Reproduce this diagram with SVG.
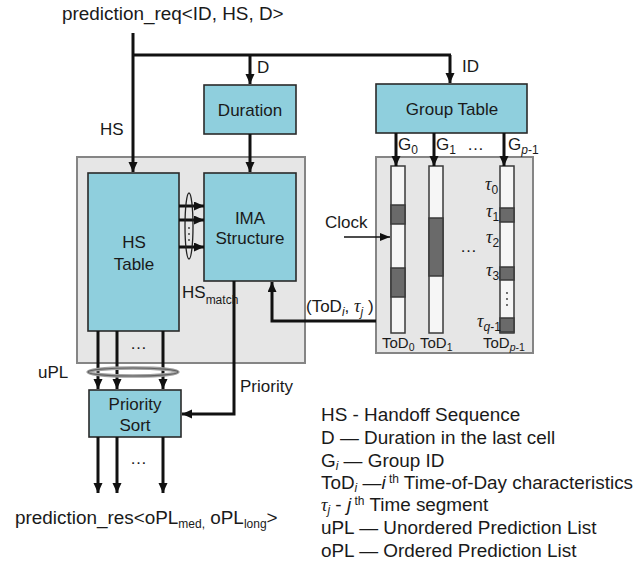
<svg xmlns="http://www.w3.org/2000/svg" width="644" height="564" viewBox="0 0 644 564">
<defs>
<marker id="ah" markerUnits="userSpaceOnUse" markerWidth="11" markerHeight="10" refX="10" refY="4.5" orient="auto">
<path d="M0,0 L10,4.5 L0,9 z" fill="#111"/>
</marker>
<marker id="ahs" markerUnits="userSpaceOnUse" markerWidth="11" markerHeight="10" refX="10" refY="4" orient="auto">
<path d="M0,0 L10,4 L0,8 z" fill="#111"/>
</marker>
</defs>
<style>
text{font-family:"Liberation Sans",Arial,sans-serif;fill:#1a1a1a;font-size:17px}
.big{font-size:18.9px}
.sub{font-size:12px}
.tod{font-size:15px}
.tsub{font-size:10.5px}
.tau{font-family:"Liberation Serif","Times New Roman",serif;font-style:italic;font-size:18px}
.it{font-style:italic}
.panel{fill:#e6e6e6;stroke:#858585;stroke-width:2}
.box{fill:#8fcfdd;stroke:#2a2a2a;stroke-width:1.6}
.bar{fill:#f6f6f6;stroke:#3a3a3a;stroke-width:1.5}
.seg{fill:#6a6a6a;stroke:#3a3a3a;stroke-width:1.5}
.c{fill:none;stroke:#111;stroke-width:3}
.ca{fill:none;stroke:#111;stroke-width:3;marker-end:url(#ah)}
.thin{fill:none;stroke:#111;stroke-width:1.6;marker-end:url(#ahs)}
</style>
<rect width="644" height="564" fill="#ffffff"/>

<g id="panel-left"><rect class="panel" x="77" y="157" width="228" height="206"/></g>
<g id="panel-right"><rect class="panel" x="376" y="157" width="157" height="196"/></g>

<g id="duration"><rect class="box" x="204" y="85" width="92" height="49"/><text x="250" y="116" text-anchor="middle">Duration</text></g>
<g id="group-table"><rect class="box" x="376" y="84" width="151" height="49"/><text x="452" y="115" text-anchor="middle">Group Table</text></g>
<g id="hs-table"><rect class="box" x="88" y="173" width="91" height="158"/><text x="134" y="248" text-anchor="middle">HS</text><text x="134" y="270" text-anchor="middle">Table</text></g>
<g id="ima"><rect class="box" x="204" y="173" width="92" height="108"/><text x="250" y="224" text-anchor="middle">IMA</text><text x="250" y="244" text-anchor="middle">Structure</text></g>
<g id="priority-sort"><rect class="box" x="89" y="390" width="92" height="47"/><text x="135" y="410" text-anchor="middle">Priority</text><text x="135" y="431" text-anchor="middle">Sort</text></g>

<g id="tod0">
<rect class="bar" x="391" y="166" width="14" height="167"/>
<rect class="seg" x="391" y="205" width="14" height="19"/>
<rect class="seg" x="391" y="268" width="14" height="29"/>
<text class="tod" x="382" y="348">ToD<tspan class="tsub" dy="3">0</tspan></text>
</g>
<g id="tod1">
<rect class="bar" x="429" y="166" width="14" height="167"/>
<rect class="seg" x="429" y="218" width="14" height="58"/>
<text class="tod" x="420" y="348">ToD<tspan class="tsub" dy="3">1</tspan></text>
</g>
<g id="todp">
<rect class="bar" x="500" y="166" width="14" height="167"/>
<rect class="seg" x="500" y="208" width="14" height="14"/>
<rect class="seg" x="500" y="267" width="14" height="13"/>
<rect class="seg" x="500" y="318" width="14" height="14"/>
<text class="tod" x="483" y="348">ToD<tspan class="tsub" dy="3" font-style="italic">p</tspan><tspan class="tsub">-1</tspan></text>
<text class="tau" x="485" y="190">τ<tspan class="sub" font-style="normal" font-family="Liberation Sans" dy="4">0</tspan></text>
<text class="tau" x="486" y="217">τ<tspan class="sub" font-style="normal" font-family="Liberation Sans" dy="4">1</tspan></text>
<text class="tau" x="486" y="243">τ<tspan class="sub" font-style="normal" font-family="Liberation Sans" dy="4">2</tspan></text>
<text class="tau" x="486" y="276">τ<tspan class="sub" font-style="normal" font-family="Liberation Sans" dy="4">3</tspan></text>
<text class="tau" x="477" y="327">τ<tspan class="sub" font-family="Liberation Sans" dy="4">q</tspan><tspan class="sub" font-style="normal" font-family="Liberation Sans">-1</tspan></text>
<g fill="#333"><circle cx="507" cy="293" r="0.9"/><circle cx="507" cy="299" r="0.9"/><circle cx="507" cy="305" r="0.9"/></g>
</g>

<g id="connectors">
<line class="ca" x1="133" y1="33" x2="133" y2="172"/>
<line class="c" x1="133" y1="55" x2="451" y2="55"/>
<line class="ca" x1="250" y1="55" x2="250" y2="84"/>
<line class="ca" x1="450" y1="55" x2="450" y2="83"/>
<line class="ca" x1="250" y1="134" x2="250" y2="172"/>
<line class="ca" x1="396" y1="133" x2="396" y2="166"/>
<line class="ca" x1="434" y1="133" x2="434" y2="166"/>
<line class="ca" x1="504" y1="133" x2="504" y2="166"/>
<line class="ca" x1="179" y1="206" x2="204" y2="206"/>
<line class="ca" x1="179" y1="220" x2="204" y2="220"/>
<line class="ca" x1="179" y1="247" x2="204" y2="247"/>
<ellipse cx="189" cy="226" rx="4" ry="33" fill="none" stroke="#222" stroke-width="1.3"/>
<g fill="#333"><circle cx="189" cy="228" r="0.9"/><circle cx="189" cy="234" r="0.9"/><circle cx="189" cy="240" r="0.9"/></g>
<polyline class="ca" points="234,281 234,414 182,414"/>
<polyline class="ca" points="376,321 272,321 272,282"/>
<line class="thin" x1="344" y1="237" x2="390" y2="237"/>
<line class="ca" x1="98" y1="331" x2="98" y2="389"/>
<line class="ca" x1="117" y1="331" x2="117" y2="389"/>
<line class="ca" x1="163" y1="331" x2="163" y2="389"/>
<ellipse cx="133" cy="372" rx="45" ry="4" fill="none" stroke="#a0a0a0" stroke-width="3.5"/>
<ellipse cx="133" cy="372" rx="45" ry="4" fill="none" stroke="#606060" stroke-width="1.1"/>
<line class="ca" x1="98" y1="437" x2="98" y2="493"/>
<line class="ca" x1="117" y1="437" x2="117" y2="493"/>
<line class="ca" x1="163" y1="437" x2="163" y2="493"/>
</g>

<g id="labels">
<text class="big" x="62" y="20">prediction_req&lt;ID, HS, D&gt;</text>
<text x="257" y="73">D</text>
<text x="462" y="72">ID</text>
<text x="100" y="135">HS</text>
<text x="398" y="150">G<tspan class="sub" dy="4">0</tspan></text>
<text x="436" y="150">G<tspan class="sub" dy="4">1</tspan></text>
<text x="467" y="150">…</text>
<text x="508" y="150">G<tspan class="sub" dy="4" font-style="italic">p</tspan><tspan class="sub">-1</tspan></text>
<text x="325" y="228">Clock</text>
<text x="460" y="252">…</text>
<text x="182" y="298">HS<tspan class="sub" dy="6">match</tspan></text>
<text x="306" y="312">(ToD<tspan class="sub" dy="4" font-style="italic">i</tspan><tspan dy="-4">, </tspan><tspan class="tau">τ</tspan><tspan class="sub" dy="4" font-style="italic">j</tspan><tspan dy="-4"> )</tspan></text>
<text x="130" y="349">…</text>
<text x="38" y="378">uPL</text>
<text x="240" y="392">Priority</text>
<text x="130" y="464">…</text>
<text class="big" x="15" y="524">prediction_res&lt;oPL<tspan class="sub" dy="4">med,</tspan><tspan dy="-4"> oPL</tspan><tspan class="sub" dy="4">long</tspan><tspan dy="-4">&gt;</tspan></text>
</g>

<g id="legend">
<text class="big" x="321" y="421">HS - Handoff Sequence</text>
<text class="big" x="321" y="444">D — Duration in the last cell</text>
<text class="big" x="321" y="467">G<tspan class="sub it" dy="3">i</tspan><tspan dy="-3"> — Group ID</tspan></text>
<text class="big" x="321" y="489">ToD<tspan class="sub it" dy="3">i</tspan><tspan dy="-3"> —</tspan><tspan class="it">i</tspan><tspan class="sub" dy="-6"> th</tspan><tspan dy="6"> Time-of-Day characteristics</tspan></text>
<text class="big" x="321" y="511"><tspan class="tau">τ</tspan><tspan class="sub it" dy="3">j</tspan><tspan dy="-3">  - </tspan><tspan class="it">j</tspan><tspan class="sub" dy="-6"> th</tspan><tspan dy="6"> Time segment</tspan></text>
<text class="big" x="321" y="534">uPL — Unordered Prediction List</text>
<text class="big" x="321" y="557">oPL — Ordered Prediction List</text>
</g>
</svg>
